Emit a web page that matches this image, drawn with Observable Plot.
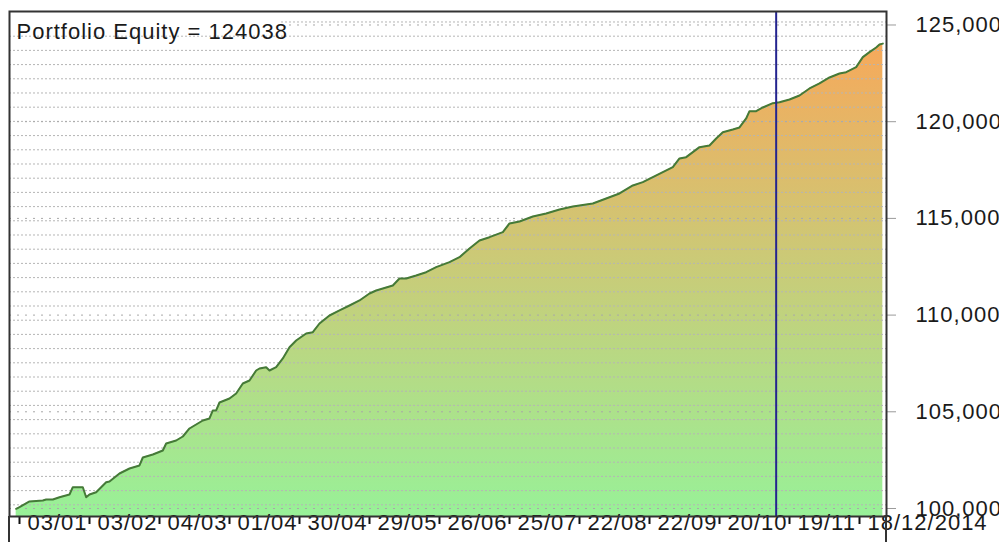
<!DOCTYPE html>
<html><head><meta charset="utf-8">
<script src="https://cdn.jsdelivr.net/npm/d3@7"></script>
<script src="https://cdn.jsdelivr.net/npm/@observablehq/plot@0.6"></script>
<style>
html,body{margin:0;padding:0;background:#fff;}
#chart svg{display:block;}
g[aria-label^="y-axis"] line, g[aria-label^="y-axis"] path {stroke:#9a9a9a;}
g[aria-label^="x-axis"] line, g[aria-label^="x-axis"] path {stroke:#111;stroke-width:2;}
</style>
</head><body><div id="chart"></div>
<script>
const titleText = "Portfolio Equity = 124038";
const bars = [0,1,4,8,9,11,13,16,17,20,21,22,24,27,28,31,34,37,38,41,44,45,48,50,52,56,58,59,60,61,64,66,68,70,72,73,75,76,78,80,82,84,87,89,91,94,97,100,103,106,108,110,113,115,117,120,123,126,130,133,136,139,142,146,148,151,155,159,163,167,173,177,181,185,188,191,194,197,199,201,203,205,208,210,212,215,217,219,220,222,224,227,229,232,235,238,241,244,247,249,252,254,256,258,259,260];
const equity = [99985,100067,100362,100414,100465,100465,100584,100724,101101,101101,100584,100724,100843,101360,101396,101810,102068,102224,102637,102792,102999,103361,103516,103723,104137,104550,104654,105068,105068,105481,105688,105947,106464,106619,107136,107239,107306,107136,107306,107757,108341,108687,109049,109116,109566,109980,110239,110497,110756,111118,111273,111376,111531,111893,111893,112048,112219,112478,112737,112995,113445,113858,114029,114288,114738,114841,115100,115255,115462,115617,115772,116031,116289,116703,116874,117132,117391,117649,118099,118166,118425,118683,118771,119133,119459,119598,119702,120167,120545,120545,120736,120958,121010,121150,121356,121718,121977,122287,122494,122561,122820,123337,123596,123839,123994,124038];
const xTickBars = [1,22,43,64,85,106,127,148,169,190,211,232,253];
const xTickLabels = ["03/01","03/02","04/03","01/04","30/04","29/05","26/06","25/07","22/08","22/09","20/10","19/11","18/12/2014"];
const yTicks = [100000,105000,110000,115000,120000,125000];
const cursorBar = [228];
const xDomain = [-2, 261.1];
const yDomain = [99586, 125698];
const minorGrid = d3.range(100190, yDomain[1], 734.3);

const data = bars.map((i,k)=>({i, v: equity[k]}));
const ticks = xTickBars.map((b,k)=>({b, label: xTickLabels[k]}));

const W=999,H=542, mL=9, mR=113, mT=11, mB=26;
const font = "'Liberation Sans', Arial, sans-serif";

const svg = Plot.plot({
  width: W, height: H, marginLeft: mL, marginRight: mR, marginTop: mT, marginBottom: mB,
  style: {background: "#fff", fontFamily: font, fontSize: "22px", color: "#1a1a1a", letterSpacing: "1px"},
  x: {domain: xDomain, axis: "bottom", ticks: xTickBars, tickSize: 8, tickFormat: () => "", label: null},
  y: {domain: yDomain, axis: "right", ticks: yTicks, tickSize: 9, tickPadding: 20, tickFormat: d3.format(","), label: null},
  marks: [
    Plot.areaY(data, {x: "i", y1: yDomain[0], y2: "v", fill: "url(#eqGrad)"}),
    Plot.ruleY(minorGrid, {stroke: "#b5b5b5", strokeDasharray: "2,2"}),
    Plot.ruleY(yTicks, {stroke: "#a8a8a8", strokeDasharray: "2,6"}),
    Plot.line(data, {x: "i", y: "v", stroke: "#457a38", strokeWidth: 2}),
    Plot.ruleX(cursorBar, {stroke: "#24248f", strokeWidth: 2}),
    Plot.text(ticks, {x: "b", text: "label", frameAnchor: "bottom", textAnchor: "start", dx: 8, dy: 13, fontSize: 22, fill: "#1a1a1a"}),
    Plot.text([titleText], {text: d => d, frameAnchor: "top-left", textAnchor: "start", dx: 7, dy: 12, fontSize: 22, fill: "#1a1a1a"}),
    Plot.frame({stroke: "#333", strokeWidth: 2})
  ]
});
document.getElementById("chart").appendChild(svg);

const sel = d3.select(svg);
const grad = sel.insert("defs", ":first-child").append("linearGradient")
  .attr("id","eqGrad").attr("x1",0).attr("y1",0).attr("x2",0).attr("y2",1);
grad.append("stop").attr("offset","0%").attr("stop-color","#f6a95b");
grad.append("stop").attr("offset","100%").attr("stop-color","#98f198");

// white box behind title
sel.selectAll("text").each(function(){
  if (this.textContent === titleText) {
    const b = this.getBBox();
    d3.select(this.parentNode).insert("rect", () => this)
      .attr("x", b.x - 6).attr("y", b.y - 2).attr("width", b.width + 8).attr("height", b.height + 4)
      .attr("fill", "#fff");
  }
});
// frame verticals extend through the date strip
[mL, W - mR].forEach(x => {
  sel.append("line").attr("x1", x).attr("x2", x).attr("y1", H - mB).attr("y2", H)
    .attr("stroke", "#333").attr("stroke-width", 2);
});
</script>
</body></html>
